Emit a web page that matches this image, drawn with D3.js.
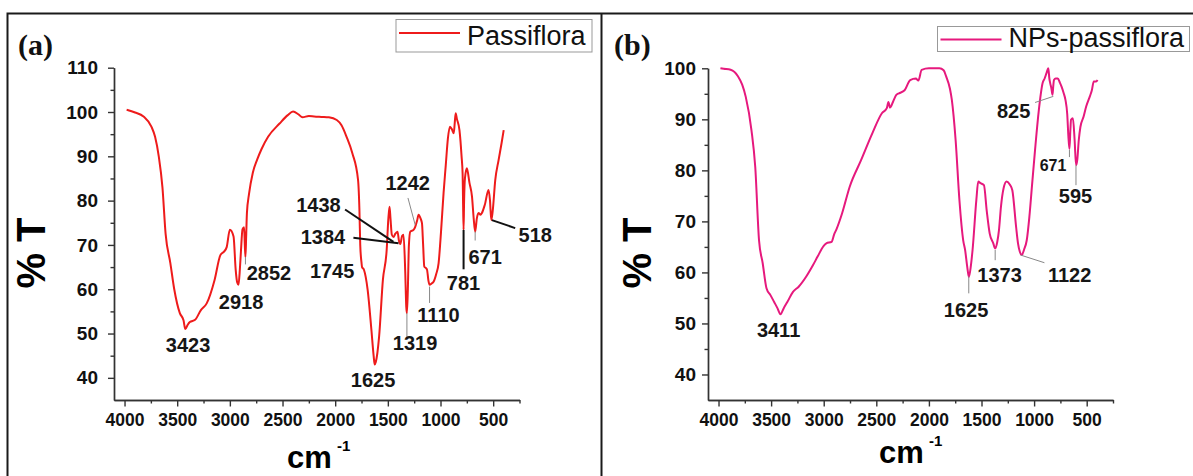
<!DOCTYPE html>
<html>
<head>
<meta charset="utf-8">
<script src="https://cdn.jsdelivr.net/npm/d3@7"></script>
<style>
  html, body { margin: 0; padding: 0; background: #fff; }
  svg { display: block; font-family: "Liberation Sans", Arial, sans-serif; }
</style>
</head>
<body>
<div id="chart-container"></div>
<script>
// ticks
const xTicks = [4000, 3500, 3000, 2500, 2000, 1500, 1000, 500];
const xMinorTicks = [3750, 3250, 2750, 2250, 1750, 1250, 750, 250];
const yTicksA = [40, 50, 60, 70, 80, 90, 100, 110];
const yMinorTicksA = [45, 55, 65, 75, 85, 95, 105];
const yTicksB = [40, 50, 60, 70, 80, 90, 100];
const yMinorTicksB = [45, 55, 65, 75, 85, 95];

// spectrum (a) Passiflora
const wavenumberA = [3980, 3900, 3820, 3745, 3710, 3675, 3640, 3610, 3565, 3528, 3475, 3440, 3423, 3400, 3380, 3330, 3275, 3220, 3145, 3090, 3055, 3030, 3000, 2965, 2945, 2930, 2918, 2905, 2895, 2880, 2865, 2858, 2852, 2845, 2838, 2818, 2782, 2740, 2700, 2637, 2528, 2450, 2400, 2350, 2310, 2250, 2200, 2130, 2060, 1985, 1940, 1892, 1837, 1783, 1770, 1762, 1750, 1745, 1727, 1692, 1656, 1635, 1625, 1615, 1583, 1547, 1511, 1495, 1484, 1475, 1462, 1446, 1430, 1408, 1395, 1382, 1365, 1351, 1335, 1325, 1319, 1310, 1300, 1287, 1256, 1240, 1222, 1208, 1190, 1176, 1165, 1154, 1140, 1128, 1115, 1104, 1085, 1066, 1040, 1018, 995, 971, 950, 930, 910, 890, 874, 865, 856, 845, 820, 800, 790, 786, 781, 776, 768, 750, 725, 701, 685, 671, 655, 639, 620, 607, 580, 544, 530, 518, 505, 480, 449, 420, 400];
const transmittanceA = [100.5, 99.9, 99.0, 96.7, 94.4, 90.0, 83.0, 72.5, 65.9, 60.0, 54.6, 53.0, 51.0, 52.0, 52.6, 53.1, 55.3, 56.8, 62.1, 67.7, 68.5, 69.5, 73.4, 71.9, 64.5, 61.5, 61.0, 64.5, 68.5, 73.5, 74.0, 70.0, 67.3, 72.0, 77.2, 81.5, 86.3, 89.3, 91.6, 94.4, 97.4, 99.3, 100.1, 99.5, 98.8, 99.1, 99.0, 98.9, 98.8, 98.2, 97.0, 94.4, 90.7, 84.7, 78.0, 70.0, 66.0, 65.0, 64.4, 59.9, 50.8, 45.0, 43.0, 43.5, 49.3, 62.1, 68.9, 76.0, 78.6, 76.0, 72.3, 71.8, 72.5, 73.0, 71.0, 70.2, 72.0, 72.3, 64.0, 56.0, 54.6, 60.0, 70.0, 73.0, 73.4, 74.1, 75.5, 76.8, 76.0, 74.9, 70.0, 65.1, 64.8, 64.4, 62.0, 61.0, 61.3, 61.7, 63.5, 65.9, 73.0, 81.7, 88.0, 94.0, 96.7, 96.0, 95.2, 97.5, 99.7, 98.5, 95.9, 90.0, 86.0, 80.0, 73.4, 80.0, 85.0, 87.3, 84.0, 80.9, 76.0, 73.0, 76.0, 77.2, 76.8, 77.2, 79.0, 82.4, 80.0, 75.6, 77.5, 84.7, 89.1, 93.0, 95.9];

// spectrum (b) NPs-passiflora
const wavenumberB = [3982, 3950, 3885, 3814, 3775, 3741, 3687, 3651, 3615, 3580, 3544, 3505, 3471, 3440, 3411, 3380, 3346, 3292, 3238, 3166, 3100, 3058, 3000, 2975, 2925, 2900, 2878, 2825, 2753, 2645, 2537, 2447, 2400, 2385, 2370, 2340, 2310, 2285, 2231, 2178, 2124, 2100, 2069, 2000, 1900, 1860, 1836, 1800, 1782, 1746, 1710, 1674, 1656, 1635, 1620, 1600, 1585, 1549, 1531, 1510, 1477, 1450, 1422, 1388, 1370, 1350, 1334, 1315, 1290, 1261, 1230, 1207, 1171, 1153, 1135, 1117, 1095, 1070, 1045, 1020, 991, 955, 919, 900, 883, 865, 855, 847, 835, 825, 818, 811, 795, 775, 755, 739, 720, 702, 685, 675, 664, 655, 649, 631, 615, 601, 590, 575, 560, 530, 505, 470, 451, 433, 410, 397];
const transmittanceB = [100.0, 99.9, 99.7, 98.4, 96.8, 94.4, 87.9, 80.7, 66.3, 61.8, 56.9, 55.5, 54.2, 53.0, 51.8, 53.0, 54.2, 56.2, 57.2, 59.2, 61.5, 63.1, 65.2, 65.7, 66.0, 67.5, 68.5, 71.6, 76.8, 82.0, 87.3, 91.2, 92.2, 93.4, 92.3, 93.5, 94.8, 95.1, 95.7, 97.7, 98.0, 97.6, 99.7, 100, 100, 99.6, 98.4, 96.0, 93.8, 85.9, 74.2, 66.3, 64.4, 61.0, 59.1, 61.5, 64.4, 74.2, 77.8, 77.5, 77.1, 72.0, 67.6, 65.7, 64.7, 66.0, 68.3, 72.9, 76.5, 77.8, 77.2, 76.1, 68.9, 65.7, 64.0, 63.4, 64.5, 66.3, 70.9, 77.0, 84.0, 91.8, 97.1, 98.0, 99.0, 100, 98.0, 97.1, 96.0, 94.8, 96.5, 97.7, 98.0, 98.0, 97.2, 96.4, 95.2, 93.8, 91.0, 87.0, 84.2, 88.0, 89.9, 90.2, 86.0, 81.0, 82.0, 86.0, 88.5, 90.5, 92.5, 94.5, 95.7, 97.4, 97.4, 97.7];

// peak labels: text, and [wavenumber, %T] of the label's baseline centre
const peakTextA = ["3423", "2918", "2852", "1745", "1625", "1319", "1110", "781", "671", "518", "1242", "1438", "1384"];
const peakAtA = [[3397, 45.8], [2894, 55.5], [2629, 62.1], [2029, 62.5], [1640, 37.9], [1241, 46.3], [1019, 52.6], [782, 59.8], [576, 65.8], [100, 70.7], [1312, 82.4], [2159, 77.5], [2116, 70.3]];
// leader lines, [wavenumber, %T] end points
const leadThickA = [[[1906, 78.0], [1447, 70.7]], [[1827, 71.6], [1399, 70.4]], [[781, 73.4], [781, 64.5]], [[512, 75.6], [291, 73.8]]];
const leadThinA = [[[1309, 80.6], [1240, 74.5]], [[1319, 54.6], [1319, 49.2]], [[1104, 60.6], [1104, 56.9]], [[671, 73.0], [671, 71.0]], [[2852, 67.3], [2852, 65.6]]];

const peakTextB = ["3411", "1625", "1373", "1122", "825", "671", "595"];
const peakAtB = [[3429, 47.3], [1647, 51.3], [1328, 58.1], [662, 58.1], [1194, 90.2], [820, 79.9], [606, 73.6]];
const leadThickB = [];
const leadThinB = [[[991, 93.3], [817, 94.5]], [[602, 81.0], [602, 77.1]], [[1370, 64.4], [1370, 62.4]], [[1128, 63.4], [902, 61.9]], [[1621, 59.2], [1621, 55.9]], [[664, 84.0], [664, 82.6]]];

const W = 1193, H = 476;

const svg = d3
  .select("#chart-container")
  .append("svg")
  .attr("width", W)
  .attr("height", H);

// outer frame and divider
svg.append("path")
  .attr("d", "M7.5,476 L7.5,13.5 L1193,13.5 M601.5,13.5 L601.5,476")
  .attr("fill", "none")
  .attr("stroke", "#1a1a1a")
  .attr("stroke-width", 2);

function drawPanel(p) {
  const g = svg.append("g");

  const x = d3.scaleLinear().domain([4100, 250]).range(p.xRange);
  const y = d3.scaleLinear().domain(p.yDomain).range([400, p.yTop]);

  // minor ticks
  g.append("g")
    .attr("transform", `translate(0,400)`)
    .call(d3.axisBottom(x).tickValues(xMinorTicks).tickSize(3.5).tickSizeOuter(0).tickFormat(""));
  g.append("g")
    .attr("transform", `translate(${p.xRange[0]},0)`)
    .call(d3.axisLeft(y).tickValues(p.yMinor).tickSize(3.5).tickSizeOuter(0).tickFormat(""));

  // major ticks + labels
  const xa = g.append("g")
    .attr("transform", `translate(0,400)`)
    .call(d3.axisBottom(x).tickValues(xTicks).tickSize(6.5).tickSizeOuter(0).tickPadding(7).tickFormat(d3.format("d")));
  xa.selectAll("text").attr("font-size", 17.5).attr("font-weight", "bold");

  const ya = g.append("g")
    .attr("transform", `translate(${p.xRange[0]},0)`)
    .call(d3.axisLeft(y).tickValues(p.yTicks).tickSize(6).tickSizeOuter(0).tickPadding(p.yPad).tickFormat(d3.format("d")));
  ya.selectAll("text").attr("font-size", 19).attr("font-weight", "bold");

  g.selectAll(".domain, .tick line").attr("stroke", "#333").attr("stroke-width", 1.4);
  g.selectAll(".tick text").attr("fill", "#111").attr("font-family", "Liberation Sans, Arial, sans-serif");

  // spectrum
  const pts = p.wn.map((w, i) => [w, p.t[i]]);
  g.append("path")
    .datum(pts)
    .attr("fill", "none")
    .attr("stroke", p.color)
    .attr("stroke-width", 2)
    .attr("stroke-linejoin", "round")
    .attr("d", d3.line().x((d) => x(d[0])).y((d) => y(d[1])).curve(d3.curveMonotoneX));

  // leader lines
  g.selectAll(".thick")
    .data(p.thick)
    .enter()
    .append("line")
    .attr("x1", (d) => x(d[0][0])).attr("y1", (d) => y(d[0][1]))
    .attr("x2", (d) => x(d[1][0])).attr("y2", (d) => y(d[1][1]))
    .attr("stroke", "#111").attr("stroke-width", 2);
  g.selectAll(".thin")
    .data(p.thin)
    .enter()
    .append("line")
    .attr("x1", (d) => x(d[0][0])).attr("y1", (d) => y(d[0][1]))
    .attr("x2", (d) => x(d[1][0])).attr("y2", (d) => y(d[1][1]))
    .attr("stroke", "#888").attr("stroke-width", 1);

  // peak labels
  g.selectAll(".peak")
    .data(p.labels)
    .enter()
    .append("text")
    .attr("x", (d, i) => x(p.at[i][0]))
    .attr("y", (d, i) => y(p.at[i][1]))
    .attr("text-anchor", "middle")
    .attr("font-size", (d, i) => (p.small === i ? 16 : 20))
    .attr("font-weight", "bold")
    .attr("fill", "#161616")
    .text((d) => d);

  // panel letter
  g.append("text")
    .attr("x", p.letterX).attr("y", 55)
    .attr("font-family", "Liberation Serif, Times New Roman, serif")
    .attr("font-weight", "bold")
    .attr("font-size", 30)
    .attr("fill", "#111")
    .text(p.letter);

  // y title
  g.append("text")
    .attr("transform", `translate(${p.yTitleX},253) rotate(-90)`)
    .attr("text-anchor", "middle")
    .attr("font-size", 40)
    .attr("font-weight", "bold")
    .attr("fill", "#000")
    .text("% T");

  // x title
  g.append("text")
    .attr("x", p.cmX).attr("y", p.cmY)
    .attr("font-size", 31)
    .attr("font-weight", "bold")
    .attr("fill", "#000")
    .text("cm");
  g.append("text")
    .attr("x", p.cmX + 50).attr("y", p.cmY - 17)
    .attr("font-size", 15)
    .attr("font-weight", "bold")
    .attr("fill", "#000")
    .text("-1");

  // legend
  const L = p.legend;
  g.append("rect")
    .attr("x", L.x).attr("y", L.y).attr("width", L.w).attr("height", L.h)
    .attr("fill", "#fff").attr("stroke", "#999").attr("stroke-width", 1);
  g.append("line")
    .attr("x1", L.x + 3).attr("x2", L.x + 64)
    .attr("y1", L.lineY).attr("y2", L.lineY)
    .attr("stroke", p.color).attr("stroke-width", 2.2);
  g.append("text")
    .attr("x", L.x + 71).attr("y", L.textY)
    .attr("font-size", 27)
    .attr("fill", "#111")
    .text(p.name);
}

drawPanel({
  name: "Passiflora",
  letter: "(a)", letterX: 18,
  color: "#ee1b1b",
  wn: wavenumberA, t: transmittanceA,
  xRange: [114, 519.5], yDomain: [35, 110], yTop: 67.7,
  yTicks: yTicksA, yMinor: yMinorTicksA, yPad: 10,
  labels: peakTextA, at: peakAtA, thick: leadThickA, thin: leadThinA, small: -1,
  yTitleX: 45, cmX: 287, cmY: 468,
  legend: { x: 396, y: 19.5, w: 196, h: 32.5, lineY: 33, textY: 45 }
});

drawPanel({
  name: "NPs-passiflora",
  letter: "(b)", letterX: 614,
  color: "#e6197d",
  wn: wavenumberB, t: transmittanceB,
  xRange: [708, 1113], yDomain: [35, 100], yTop: 68.3,
  yTicks: yTicksB, yMinor: yMinorTicksB, yPad: 6,
  labels: peakTextB, at: peakAtB, thick: leadThickB, thin: leadThinB, small: 5,
  yTitleX: 651, cmX: 879, cmY: 463,
  legend: { x: 937.5, y: 26.5, w: 252, h: 25, lineY: 39.5, textY: 47 }
});
</script>
</body>
</html>
